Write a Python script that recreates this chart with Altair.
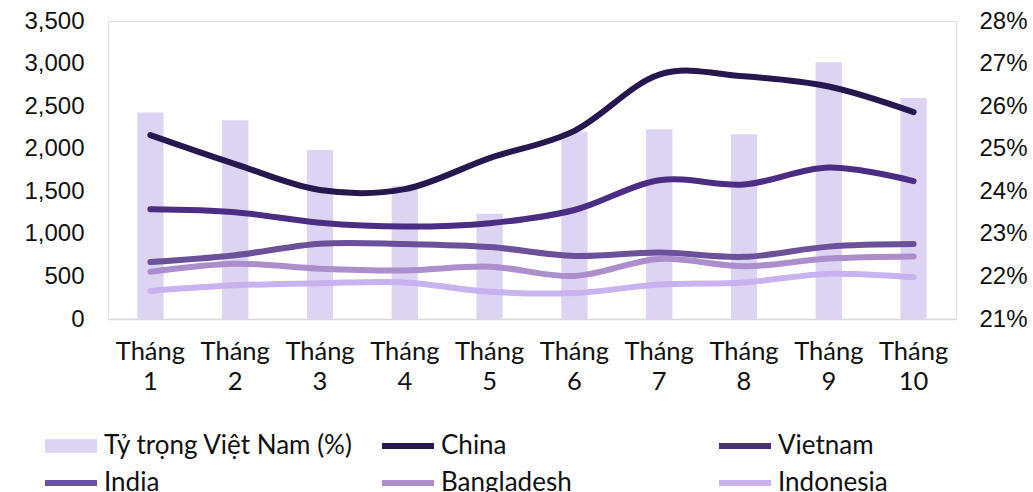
import altair as alt
import pandas as pd

months = ["Tháng 1", "Tháng 2", "Tháng 3", "Tháng 4", "Tháng 5",
          "Tháng 6", "Tháng 7", "Tháng 8", "Tháng 9", "Tháng 10"]
share_vn = [25.85, 25.67, 24.97, 24.13, 23.47, 25.40, 25.46, 25.34, 27.03, 26.19]
china = [2160, 1820, 1515, 1525, 1890, 2210, 2870, 2850, 2730, 2430]
vietnam = [1290, 1255, 1130, 1085, 1125, 1280, 1630, 1580, 1780, 1620]
india = [670, 750, 885, 880, 845, 740, 780, 730, 850, 880]
bangladesh = [555, 650, 590, 570, 615, 505, 705, 620, 710, 735]
indonesia = [330, 395, 420, 430, 320, 305, 405, 430, 530, 490]

bar_name = "Tỷ trọng Việt Nam (%)"
series_names = ["China", "Vietnam", "India", "Bangladesh", "Indonesia"]
series_values = [china, vietnam, india, bangladesh, indonesia]
domain = [bar_name] + series_names
colors = ["#ddd4f4", "#27174f", "#4b2e83", "#6b5199", "#ac8ecd", "#c8b2ef"]

bar_df = pd.DataFrame({"month": months, "share": share_vn, "base": 21})
line_df = pd.DataFrame(
    [{"month": m, "value": v, "series": s, "order": i}
     for i, (s, vals) in enumerate(zip(series_names, series_values))
     for m, v in zip(months, vals)]
)

test = f"datum.value === '{bar_name}'"
legend = alt.Legend(
    orient="none", legendX=-50, legendY=412, columns=3, gridAlign="all",
    direction="horizontal", title=None,
    symbolType={"expr": f"{test} ? 'M-1,-0.26H1V0.26H-1Z' : 'stroke'"},
    symbolFillColor={"expr": f"{test} ? '{colors[0]}' : 'transparent'"},
    symbolStrokeWidth={"expr": f"{test} ? 0 : 6"},
    symbolSize=2704, symbolOpacity=1,
    labelFont="Lato", labelFontSize=26, labelColor="#111111",
    labelOffset=20, columnPadding=16, rowPadding=11, labelLimit=400,
)

x = alt.X("month:N", sort=months, title=None,
          scale=alt.Scale(paddingInner=0.69, paddingOuter=0.345),
          axis=alt.Axis(labelAngle=0, labelExpr="split(datum.label, ' ')",
                        labelFont="Lato", labelFontSize=25.5, labelColor="#111111",
                        labelLineHeight=30, labelPadding=20, ticks=False,
                        domainColor="#d9d9d9", domainWidth=1.5, grid=False))

bars = alt.Chart(bar_df).mark_bar(color=colors[0]).encode(
    x=x,
    y=alt.Y("share:Q", title=None,
            scale=alt.Scale(domain=[21, 28], nice=False, zero=False),
            axis=alt.Axis(orient="right", values=[21, 22, 23, 24, 25, 26, 27, 28],
                          labelExpr="datum.value + '%'", domain=False, ticks=False,
                          grid=False, labelFont="Liberation Sans", labelFontSize=24,
                          labelColor="#111111", labelPadding=23)),
    y2="base:Q",
)

lines = alt.Chart(line_df).mark_line(
    interpolate="cardinal", strokeWidth=6, strokeCap="round"
).encode(
    x=x,
    y=alt.Y("value:Q", title=None,
            scale=alt.Scale(domain=[0, 3500], nice=False),
            axis=alt.Axis(orient="left", values=[0, 500, 1000, 1500, 2000, 2500, 3000, 3500],
                          labelExpr="format(datum.value, ',.0f')", domain=False, ticks=False,
                          grid=False, labelFont="Liberation Sans", labelFontSize=24,
                          labelColor="#111111", labelPadding=24)),
    stroke=alt.Stroke("series:N", scale=alt.Scale(domain=domain, range=colors), legend=legend),
    order="order:Q",
)

chart = alt.layer(bars, lines).resolve_scale(y="independent").properties(
    width=848, height=298,
    autosize=alt.AutoSizeParams(type="none"),
    padding={"left": 108, "top": 21, "right": 77, "bottom": 173},
).configure_view(stroke=None).configure(background="white")

chart.save("out.html", embed_options={"renderer": "svg", "actions": False})
